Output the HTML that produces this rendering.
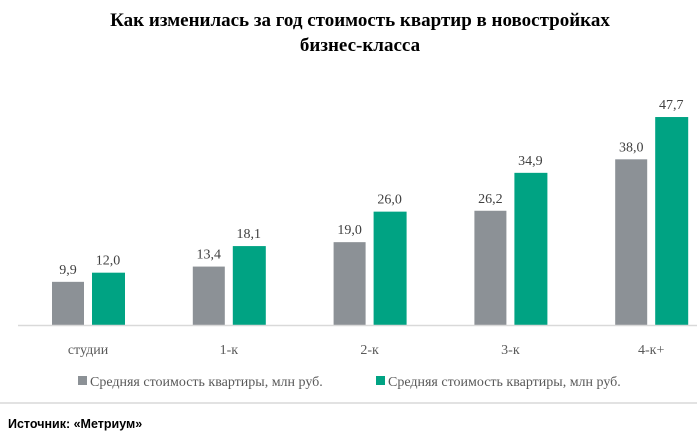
<!DOCTYPE html>
<html><head><meta charset="utf-8"><style>
body{margin:0;background:#fff;width:697px;height:434px;overflow:hidden;font-family:"Liberation Serif",serif}
</style></head><body>
<svg width="697" height="434">
<text x="360" y="26" text-anchor="middle" font-size="19" font-weight="bold">Как изменилась за год стоимость  квартир в новостройках</text>
<text x="360" y="51" text-anchor="middle" font-size="19" font-weight="bold">бизнес-класса</text>
<g id="bars"></g>
<line x1="18" y1="325.5" x2="697" y2="325.5" stroke="#d9d9d9" stroke-width="1.5"/>
<rect x="78" y="376" width="9" height="9" fill="#8c9196"/>
<text x="90" y="386" font-size="14" fill="#595959">Средняя стоимость квартиры, млн руб.</text>
<rect x="376" y="376" width="9" height="9" fill="#00a383"/>
<text x="388" y="386" font-size="14" fill="#595959">Средняя стоимость квартиры, млн руб.</text>
<line x1="0" y1="403" x2="697" y2="403" stroke="#d9d9d9" stroke-width="1.5"/>
<text x="8" y="428" font-size="12.5" font-weight="bold" font-family="Liberation Sans, sans-serif">Источник: «Метриум»</text>
</svg>
<script>
const categories=["студии","1-к","2-к","3-к","4-к+"];
const seriesA=[9.9,13.4,19.0,26.2,38.0];
const seriesB=[12.0,18.1,26.0,34.9,47.7];
const labelsA=["9,9","13,4","19,0","26,2","38,0"];
const labelsB=["12,0","18,1","26,0","34,9","47,7"];
const ns="http://www.w3.org/2000/svg";
const g=document.getElementById("bars");
const y=v=>325-v*4.36;
const cx=i=>88+i*140.8;
function add(tag,attrs,txt){const e=document.createElementNS(ns,tag);for(const k in attrs)e.setAttribute(k,attrs[k]);if(txt)e.textContent=txt;g.appendChild(e);return e;}
categories.forEach((c,i)=>{
 let r=add("rect",{x:cx(i)-36,y:y(seriesA[i]),width:32,height:325-y(seriesA[i]),fill:"#8c9196"});
 
 
 r=add("rect",{x:cx(i)+4,y:y(seriesB[i]),width:33,height:325-y(seriesB[i]),fill:"#00a383"});
 
 
 let t=add("text",{x:cx(i)-20,y:y(seriesA[i])-8,"text-anchor":"middle","font-size":14,fill:"#404040"},labelsA[i]);
 
 
 t=add("text",{x:cx(i)+20,y:y(seriesB[i])-8,"text-anchor":"middle","font-size":14,fill:"#404040"},labelsB[i]);
 
 
 t=add("text",{x:cx(i),y:354,"text-anchor":"middle","font-size":14,fill:"#595959"},c);
 
 
});
</script>
</body></html>
